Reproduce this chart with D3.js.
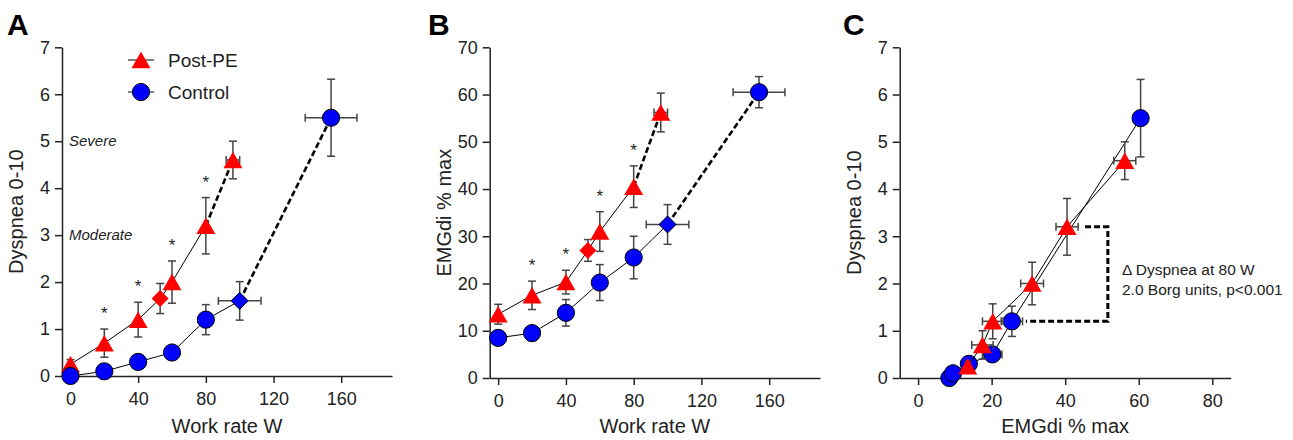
<!DOCTYPE html>
<html>
<head>
<meta charset="utf-8">
<script src="https://cdn.jsdelivr.net/npm/d3@7"></script>
<style>
  html, body { margin: 0; padding: 0; background: #fff; }
  svg { display: block; font-family: "Liberation Sans", Arial, sans-serif; }
</style>
</head>
<body>
<svg id="chart" width="1293" height="440"></svg>
<script>
// ---------------- DATA ----------------
const workRate = [0, 20, 40, 53, 60, 80, 96];          // Post-PE work rates (index 3 = diamond, 6 = peak)
const workRateCtrl = [0, 20, 40, 60, 80, 100, 154];    // Control work rates (index 5 = diamond, 6 = peak)
const postPEWorkRateErr = [0, 0, 0, 0, 0, 0, 4];
const controlWorkRateErr = [0, 0, 0, 0, 0, 12.6, 15.3];

// Panel A: Dyspnea
const postPEDyspnea = [0.25, 0.7, 1.2, 1.65, 2.0, 3.2, 4.6];
const postPEDyspneaErr = [0.1, 0.3, 0.37, 0.32, 0.45, 0.6, 0.4];
const controlDyspnea = [0, 0.1, 0.3, 0.5, 1.2, 1.6, 5.5];
const controlDyspneaErr = [0.05, 0.05, 0.1, 0.1, 0.32, 0.41, 0.82];

// Panel B: EMGdi % max
const postPEEMG = [13.5, 17.5, 20.3, 27, 31, 40.5, 56.2];
const postPEEMGErr = [2.1, 3.0, 2.5, 2.3, 4.2, 4.4, 4.1];
const controlEMG = [8.5, 9.5, 13.8, 20.2, 25.5, 32.5, 60.5];
const controlEMGErr = [0.5, 1.5, 2.8, 3.8, 4.5, 4.2, 3.3];

// Panel C: Dyspnea vs EMGdi (no diamonds)
const cPostEMG = [13.5, 17.5, 20.3, 31, 40.5, 56.2];
const cPostEMGErr = [0.5, 2.9, 2.8, 3.1, 3.0, 3.0];
const cPostDyspnea = [0.25, 0.7, 1.2, 2.0, 3.2, 4.6];
const cPostDyspneaErr = [0.1, 0.3, 0.37, 0.45, 0.6, 0.4];
const cCtrlEMG = [8.5, 9.5, 13.8, 20.2, 25.5, 60.5];
const cCtrlEMGErr = [0.5, 0.5, 1.0, 2.6, 2.9, 1.8];
const cCtrlDyspnea = [0, 0.1, 0.3, 0.5, 1.2, 5.5];
const cCtrlDyspneaErr = [0.05, 0.05, 0.1, 0.1, 0.32, 0.82];

// Significance markers (indices into Post-PE arrays)
const sigIndex = [1, 2, 4, 5];

// Ticks
const workRateTicks = [0, 40, 80, 120, 160];
const dyspneaTicks = [0, 1, 2, 3, 4, 5, 6, 7];
const emgTicks = [0, 10, 20, 30, 40, 50, 60, 70];
const emgXTicks = [0, 20, 40, 60, 80];

// Annotations
const intensityLabels = [{ text: "Severe", y: 5 }, { text: "Moderate", y: 3 }];
const bracketPoints = [[45.4, 3.2], [51.6, 3.2], [51.6, 1.2], [29.3, 1.2]];
const deltaText = ["\u0394 Dyspnea at 80 W", "2.0 Borg units, p<0.001"];

// ---------------- DRAWING ----------------
const RED = "#ff0000", BLUE = "#0000ff", ERR = "#444";
const svg = d3.select("#chart");

function triPath(w, h) { return `M0,${-h/2}L${w/2},${h/2}L${-w/2},${h/2}Z`; }
function diaPath(r) { return `M0,${-r}L${r},0L0,${r}L${-r},0Z`; }

function makePanel(o) {
  const x = d3.scaleLinear().domain(o.xDomain).range(o.xRange);
  const y = d3.scaleLinear().domain(o.yDomain).range(o.yRange);
  const g = svg.append("g");

  const xAxis = g.append("g").attr("transform", `translate(0,${o.yRange[0]})`)
    .call(d3.axisBottom(x).tickValues(o.xTicks).tickFormat(d3.format("d")).tickSize(7).tickSizeOuter(0).tickPadding(9));
  const yAxis = g.append("g").attr("transform", `translate(${o.xRange[0]},0)`)
    .call(d3.axisLeft(y).tickValues(o.yTicks).tickFormat(d3.format("d")).tickSize(7).tickSizeOuter(0).tickPadding(5));
  [xAxis, yAxis].forEach(a => {
    a.select(".domain").attr("stroke", "#222").attr("stroke-width", 1.5);
    a.selectAll(".tick line").attr("stroke", "#222").attr("stroke-width", 1.5);
    a.selectAll(".tick text").attr("fill", "#222").style("font-size", "18px")
      .style("font-family", "'Liberation Sans', Arial, sans-serif");
  });

  // axis titles
  g.append("text").attr("x", (o.xRange[0] + o.xRange[1]) / 2).attr("y", 433)
    .attr("text-anchor", "middle").attr("fill", "#222").style("font-size", "20px").text(o.xTitle);
  const ym = (o.yRange[0] + o.yRange[1]) / 2;
  g.append("text").attr("transform", `translate(${o.xRange[0] - 39},${ym}) rotate(-90)`)
    .attr("text-anchor", "middle").attr("fill", "#222").style("font-size", "20px").text(o.yTitle);

  // panel letter
  svg.append("text").attr("x", o.letterX).attr("y", 35).attr("fill", "#000")
    .style("font-size", "30px").style("font-weight", "bold").text(o.letter);

  return { g, x, y };
}

function drawSeries(p, s) {
  const { g, x, y } = p;
  const pts = s.xs.map((xv, i) => ({ x: xv, y: s.ys[i], xe: s.xe[i], ye: s.ye[i], i }));
  // lines
  const line = d3.line().x(d => x(d.x)).y(d => y(d.y));
  const solid = s.dashFrom != null ? pts.slice(0, s.dashFrom + 1) : pts;
  g.append("path").attr("d", line(solid)).attr("fill", "none").attr("stroke", "#000").attr("stroke-width", 1);
  if (s.dashFrom != null) {
    g.append("path").attr("d", line(pts.slice(s.dashFrom))).attr("fill", "none")
      .attr("stroke", "#000").attr("stroke-width", 2.6).attr("stroke-dasharray", "6,3");
  }
  // error bars
  const eg = g.append("g").attr("stroke", ERR).attr("stroke-width", 1.5);
  pts.forEach(d => {
    if (d.ye > 0) {
      eg.append("line").attr("x1", x(d.x)).attr("x2", x(d.x)).attr("y1", y(d.y - d.ye)).attr("y2", y(d.y + d.ye));
      [d.y - d.ye, d.y + d.ye].forEach(v => eg.append("line").attr("x1", x(d.x) - 4).attr("x2", x(d.x) + 4)
        .attr("y1", y(v)).attr("y2", y(v)));
    }
    if (d.xe > 0) {
      eg.append("line").attr("y1", y(d.y)).attr("y2", y(d.y)).attr("x1", x(d.x - d.xe)).attr("x2", x(d.x + d.xe));
      [d.x - d.xe, d.x + d.xe].forEach(v => eg.append("line").attr("y1", y(d.y) - 4).attr("y2", y(d.y) + 4)
        .attr("x1", x(v)).attr("x2", x(v)));
    }
  });
  // markers
  pts.forEach(d => {
    const isDia = s.diamond != null && d.i === s.diamond;
    const m = g.append("path").attr("transform", `translate(${x(d.x)},${y(d.y)})`).attr("fill", s.color);
    if (isDia) {
      m.attr("d", diaPath(8.5));
      if (s.shape === "circle") m.attr("stroke", "#000").attr("stroke-width", 1);
    } else if (s.shape === "tri") {
      m.attr("d", triPath(19, 16.5));
    } else {
      m.attr("d", d3.arc()({ innerRadius: 0, outerRadius: 8.6, startAngle: 0, endAngle: 2 * Math.PI }))
        .attr("stroke", "#000").attr("stroke-width", 1);
    }
  });
}

function drawStars(p, xs, ys, es) {
  sigIndex.forEach(i => {
    p.g.append("text").attr("x", p.x(xs[i])).attr("y", p.y(ys[i] + es[i]) - 10)
      .attr("text-anchor", "middle").attr("fill", "#222").style("font-size", "17px").text("*");
  });
}

// ---- Panel A ----
const A = makePanel({
  xDomain: [-5, 190], xRange: [62, 392], yDomain: [0, 7], yRange: [376, 47.3],
  xTicks: workRateTicks, yTicks: dyspneaTicks, xTitle: "Work rate W", yTitle: "Dyspnea 0-10",
  letter: "A", letterX: 7
});
intensityLabels.forEach(l => {
  A.g.append("text").attr("x", 69).attr("y", A.y(l.y)).attr("dy", "0.35em").attr("fill", "#222")
    .style("font-size", "15px").style("font-style", "italic").text(l.text);
});
drawSeries(A, { xs: workRate, ys: postPEDyspnea, xe: postPEWorkRateErr, ye: postPEDyspneaErr,
  color: RED, shape: "tri", diamond: 3, dashFrom: 5 });
drawSeries(A, { xs: workRateCtrl, ys: controlDyspnea, xe: controlWorkRateErr, ye: controlDyspneaErr,
  color: BLUE, shape: "circle", diamond: 5, dashFrom: 5 });
drawStars(A, workRate, postPEDyspnea, postPEDyspneaErr);

// Legend
const leg = svg.append("g");
[{ label: "Post-PE", shape: "tri", color: RED, y: 60 }, { label: "Control", shape: "circle", color: BLUE, y: 92 }]
  .forEach(d => {
    leg.append("line").attr("x1", 128).attr("x2", 154).attr("y1", d.y).attr("y2", d.y).attr("stroke", "#000").attr("stroke-width", 1);
    const m = leg.append("path").attr("transform", `translate(141,${d.y})`).attr("fill", d.color);
    if (d.shape === "tri") m.attr("d", triPath(19, 16.5));
    else m.attr("d", d3.arc()({ innerRadius: 0, outerRadius: 8.6, startAngle: 0, endAngle: 2 * Math.PI }))
      .attr("stroke", "#000").attr("stroke-width", 1);
    leg.append("text").attr("x", 168).attr("y", d.y).attr("dy", "0.35em").attr("fill", "#222")
      .style("font-size", "19px").text(d.label);
  });

// ---- Panel B ----
const B = makePanel({
  xDomain: [-5, 190], xRange: [489.7, 820], yDomain: [0, 70], yRange: [378, 47.3],
  xTicks: workRateTicks, yTicks: emgTicks, xTitle: "Work rate W", yTitle: "EMGdi % max",
  letter: "B", letterX: 428
});
drawSeries(B, { xs: workRate, ys: postPEEMG, xe: postPEWorkRateErr, ye: postPEEMGErr,
  color: RED, shape: "tri", diamond: 3, dashFrom: 5 });
drawSeries(B, { xs: workRateCtrl, ys: controlEMG, xe: controlWorkRateErr, ye: controlEMGErr,
  color: BLUE, shape: "circle", diamond: 5, dashFrom: 5 });
drawStars(B, workRate, postPEEMG, postPEEMGErr);

// ---- Panel C ----
const C = makePanel({
  xDomain: [-5, 85], xRange: [899.7, 1230.7], yDomain: [0, 7], yRange: [378, 47.3],
  xTicks: emgXTicks, yTicks: dyspneaTicks, xTitle: "EMGdi % max", yTitle: "Dyspnea 0-10",
  letter: "C", letterX: 843
});
drawSeries(C, { xs: cCtrlEMG, ys: cCtrlDyspnea, xe: cCtrlEMGErr, ye: cCtrlDyspneaErr,
  color: BLUE, shape: "circle" });
drawSeries(C, { xs: cPostEMG, ys: cPostDyspnea, xe: cPostEMGErr, ye: cPostDyspneaErr,
  color: RED, shape: "tri" });
C.g.append("path").attr("d", d3.line().x(d => C.x(d[0])).y(d => C.y(d[1]))(bracketPoints))
  .attr("fill", "none").attr("stroke", "#000").attr("stroke-width", 3).attr("stroke-dasharray", "6,3");
deltaText.forEach((t, i) => {
  C.g.append("text").attr("x", 1122).attr("y", C.y(2.3) + i * 20.5).attr("dy", "0.35em")
    .attr("fill", "#222").style("font-size", "15.5px").text(t);
});
</script>
</body>
</html>
